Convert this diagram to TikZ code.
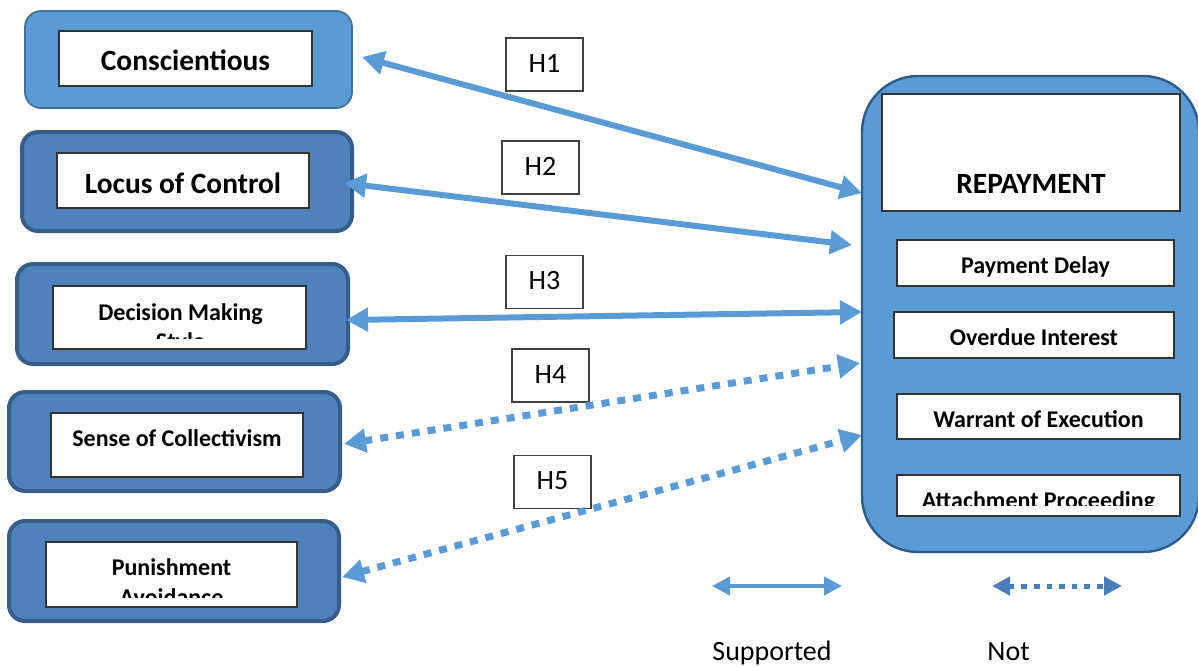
\documentclass[tikz,border=0pt]{standalone}
\usepackage{fontspec}
\setmainfont{Carlito}
\usetikzlibrary{arrows.meta}
\definecolor{lightblue}{HTML}{5B9BD5}
\definecolor{midblue}{HTML}{4F81BD}
\definecolor{edgea}{HTML}{41719C}
\definecolor{edgeb}{HTML}{385D8A}
\definecolor{edgec}{HTML}{2E5C8A}
\definecolor{legdot}{HTML}{4A7EBB}

\begin{document}
\begin{tikzpicture}[x=0.5pt, y=-0.5pt,
    outa/.style={draw=edgea, line width=0.9pt, fill=lightblue, rounded corners=8pt},
    outb/.style={draw=edgeb, line width=2pt, fill=midblue, rounded corners=8pt},
    repout/.style={draw=edgec, line width=1.2pt, fill=lightblue, rounded corners=28pt},
    ib/.style={draw=black!80, line width=0.7pt, fill=white},
    bigt/.style={font=\bfseries\fontsize{14.7}{17}\selectfont, inner sep=0pt, anchor=base},
    smt/.style={font=\bfseries\fontsize{12}{16}\selectfont, inner sep=0pt, anchor=base},
    hyp/.style={draw=black!75, line width=0.7pt, fill=white, minimum width=38.5pt, minimum height=26.5pt,
      text height=0.8em, font=\fontsize{14}{17}\selectfont},
    sup/.style={draw=lightblue, line width=3pt, >={Triangle[length=11pt,width=11.5pt]}, <->},
    nsup/.style={sup, line width=3.5pt, dash pattern=on 4pt off 4pt},
    legt/.style={font=\fontsize{14}{17}\selectfont, inner sep=0pt, anchor=base west}]
  \useasboundingbox (0,0) rectangle (1198,666);

  \node[outa, minimum width=163.5pt, minimum height=48.5pt] (cons) at (188.5,59.5) {};
  \node[ib, minimum width=126.5pt, minimum height=27.5pt] (consb) at (185.5,58.5) {};
  \node[bigt] (const) at (185.5,70) {Conscientious};

  \node[outb, minimum width=165pt, minimum height=49.5pt] (loc) at (187,181.5) {};
  \node[ib, minimum width=126pt, minimum height=27.5pt] (locb) at (183,180.5) {};
  \node[bigt] (loct) at (183,193) {Locus of Control};

  \node[outb, minimum width=165.5pt, minimum height=50pt] (dec) at (182.5,314) {};
  \node[ib, minimum width=126.5pt, minimum height=31.5pt] (decb) at (179.5,317.5) {};
  \begin{scope}
    \clip (decb.north west) rectangle ([yshift=5.5pt]decb.south east);
    \node[smt] (dect) at (180.5,320) {Decision Making};
    \node[smt] (dects) at (180.5,349) {Style};
  \end{scope}

  \node[outb, minimum width=165.5pt, minimum height=49.5pt] (col) at (174.5,441.5) {};
  \node[ib, minimum width=126pt, minimum height=32pt] (colb) at (177,445) {};
  \node[smt] (colt) at (177,446) {Sense of Collectivism};

  \node[outb, minimum width=165pt, minimum height=50pt] (pun) at (174,571) {};
  \node[ib, minimum width=125.5pt, minimum height=32.5pt] (punb) at (171.5,574.5) {};
  \begin{scope}
    \clip (punb.north west) rectangle ([yshift=5pt]punb.south east);
    \node[smt] (punt) at (171.5,575) {Punishment};
    \node[smt] (punts) at (171.5,605) {Avoidance};
  \end{scope}

  \node[repout, minimum width=168.5pt, minimum height=238pt] (rep) at (1030.5,314) {};
  \node[ib, minimum width=149pt, minimum height=58.5pt] (repb) at (1031,152.5) {};
  \node[bigt] (rept) at (1031,193) {REPAYMENT};
  \node[ib, minimum width=138.5pt, minimum height=23pt] (del) at (1035.5,263) {};
  \node[smt] (delt) at (1035.5,273) {Payment Delay};
  \node[ib, minimum width=140pt, minimum height=23pt] (ovr) at (1034,335) {};
  \node[smt] (ovrt) at (1034,345) {Overdue Interest};
  \node[ib, minimum width=141.5pt, minimum height=22.5pt] (war) at (1038.5,416.5) {};
  \node[smt] (wart) at (1038.5,427) {Warrant of Execution};
  \node[ib, minimum width=141.5pt, minimum height=20.5pt] (att) at (1038.5,495.5) {};
  \begin{scope}
    \clip (att.north west) rectangle ([yshift=5.5pt]att.south east);
    \node[smt] (attt) at (1038.5,508) {Attachment Proceeding};
  \end{scope}

  \node[hyp] (h1) at (544.5,64.5) {H1};
  \node[hyp] (h2) at (540.5,167.5) {H2};
  \node[hyp] (h3) at (544.5,282) {H3};
  \node[hyp] (h4) at (550.5,375.5) {H4};
  \node[hyp] (h5) at (552.5,482) {H5};

  \coordinate (h1a) at (362,57);  \coordinate (h1b) at (862,193);
  \coordinate (h2a) at (344,183); \coordinate (h2b) at (852,245);
  \coordinate (h3a) at (346,320); \coordinate (h3b) at (862,312);
  \coordinate (h4a) at (344,444); \coordinate (h4b) at (860,363);
  \coordinate (h5a) at (342,577); \coordinate (h5b) at (862,435);
  \draw[sup] (h1a) -- (h1b);
  \draw[sup] (h2a) -- (h2b);
  \draw[sup] (h3a) -- (h3b);
  \draw[nsup] (h4a) -- (h4b);
  \draw[nsup] (h5a) -- (h5b);

  \coordinate (lsa) at (712,586);  \coordinate (lsb) at (842,586);
  \coordinate (lna) at (992,586);  \coordinate (lnb) at (1122,586);
  \draw[sup, line width=2pt, >={Triangle[length=9pt,width=9pt]}] (lsa) -- (lsb);
  \draw[draw=legdot, line width=2.5pt, dash pattern=on 2.8pt off 3.5pt,
    >={Triangle[length=9pt,width=9pt]}, <->] (lna) -- (lnb);
  \node[legt] (lsup) at (712,660) {Supported};
  \node[legt] (lnot) at (987,660) {Not};
\end{tikzpicture}
\end{document}
